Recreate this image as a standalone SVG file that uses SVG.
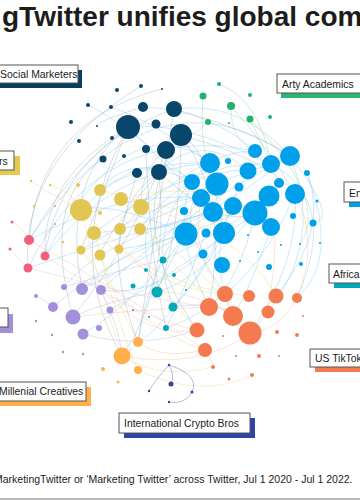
<svg xmlns="http://www.w3.org/2000/svg" width="360" height="500" viewBox="0 0 360 500">
<style>
text{font-family:"Liberation Sans",Arial,sans-serif;fill:#1a1a1a}
.title{font-size:28px;font-weight:bold;fill:#1c1c1c}
.lab{font-size:10.4px}
.cap{font-size:10.5px;fill:#222}
.box{fill:#fff;stroke:#555;stroke-width:1}
.e{fill:none;stroke-width:0.7}
.eb{stroke:#8ecdf0;opacity:.65}
.en{stroke:#93abbd;opacity:.55}
.ey{stroke:#eed98c;opacity:.6}
.ep{stroke:#f5b3c1;opacity:.55}
.eo{stroke:#f7bba4;opacity:.6}
.eu{stroke:#c7bbeb;opacity:.7}
.eg{stroke:#9fd8b8;opacity:.7}
.ec{stroke:#a4acd6;opacity:.9;stroke-width:0.9}
.nv{fill:#08466c}.gr{fill:#22b36b}.bl{fill:#00a0ea}.ye{fill:#e2c653}.pk{fill:#f0607c}
.pu{fill:#a48fdb}.or{fill:#ffb04a}.tl{fill:#00aab8}.ro{fill:#f47a50}.cb{fill:#2f449f}
</style>
<rect width="360" height="500" fill="#fff"/>
<text class="title" x="2" y="26">gTwitter unifies global com</text>
<g id="connectors">
<path class="e eb" d="M201,198 Q120,190 29,240"/>
<path class="e eb" d="M210,163 Q110,170 45,256"/>
<path class="e eb" d="M233,206 Q140,230 28,268"/>
<path class="e eb" d="M186,234 Q110,200 81,210"/>
<path class="e eb" d="M213,212 Q150,260 81,289"/>
<path class="e eb" d="M224,233 Q160,300 101,290"/>
<path class="e eb" d="M255,213 Q180,270 110,310"/>
<path class="e eb" d="M192,182 Q130,150 100,190"/>
<path class="e eb" d="M217,184 Q150,230 94,233"/>
<path class="e eb" d="M269,196 Q190,240 120,249"/>
<path class="e eb" d="M271,164 Q180,120 128,127"/>
<path class="e eb" d="M248,170 Q200,130 159,172"/>
<path class="e eb" d="M255,151 Q210,110 143,107"/>
<path class="e eb" d="M290,156 Q240,100 174,109"/>
<path class="e eb" d="M186,234 Q160,280 157,292"/>
<path class="e eb" d="M224,233 Q200,280 173,307"/>
<path class="e eb" d="M206,233 Q180,300 166,328"/>
<path class="e eb" d="M201,198 Q150,260 138,342"/>
<path class="e eb" d="M233,206 Q190,310 122,356"/>
<path class="e eb" d="M271,227 Q250,290 233,316"/>
<path class="e eb" d="M295,194 Q300,260 250,333"/>
<path class="e eb" d="M255,213 Q240,280 209,307"/>
<path class="e eb" d="M186,234 Q140,300 83,334"/>
<path class="e eb" d="M213,212 Q100,240 64,287"/>
<path class="e eb" d="M210,163 Q150,120 111,107"/>
<path class="e eb" d="M192,182 Q120,120 88,105"/>
<path class="e eb" d="M290,156 Q200,230 140,229"/>
<path class="e eb" d="M271,164 Q160,200 81,250"/>
<path class="e eb" d="M157,292 Q200,280 255,213"/>
<path class="e eb" d="M173,307 Q220,300 233,316"/>
<path class="e eb" d="M29,240 Q150,60 290,156"/>
<path class="e eb" d="M28,268 Q100,120 255,151"/>
<path class="e eb" d="M45,256 Q130,100 210,163"/>
<path class="e eb" d="M250,333 Q330,250 290,156"/>
<path class="e eb" d="M276,296 Q330,230 307,173"/>
<path class="e eb" d="M297,298 Q340,200 271,164"/>
<path class="e eb" d="M225,294 Q160,200 217,184"/>
<path class="e eb" d="M209,307 Q170,230 192,182"/>
<path class="e eb" d="M233,316 Q200,250 248,171"/>
<path class="e eb" d="M163,260 Q230,230 269,196"/>
<path class="e eb" d="M157,292 Q120,200 201,198"/>
<path class="e eb" d="M173,307 Q140,220 210,163"/>
<path class="e eb" d="M166,328 Q250,300 295,194"/>
<path class="e eb" d="M101,290 Q200,200 290,156"/>
<path class="e eb" d="M82,289 Q150,230 233,206"/>
<path class="e eb" d="M53,307 Q120,250 186,234"/>
<path class="e eb" d="M94,233 Q190,160 271,164"/>
<path class="e eb" d="M120,229 Q200,150 255,151"/>
<path class="e eb" d="M140,229 Q180,170 248,170"/>
<path class="e eb" d="M81,210 Q150,140 192,182"/>
<path class="e eb" d="M100,190 Q150,160 210,163"/>
<path class="e en" d="M128,127 Q100,200 81,250"/>
<path class="e en" d="M128,127 Q70,170 29,240"/>
<path class="e en" d="M159,172 Q110,230 100,254"/>
<path class="e en" d="M166,150 Q130,250 72,317"/>
<path class="e en" d="M181,135 Q180,240 157,292"/>
<path class="e en" d="M137,173 Q120,230 119,249"/>
<path class="e en" d="M146,149 Q150,260 166,328"/>
<path class="e en" d="M181,135 Q230,200 209,307"/>
<path class="e en" d="M174,109 Q160,200 138,342"/>
<path class="e en" d="M159,172 Q170,290 122,356"/>
<path class="e en" d="M128,127 Q40,180 45,256"/>
<path class="e en" d="M166,150 Q140,170 141,207"/>
<path class="e en" d="M143,107 Q100,120 97,126"/>
<path class="e en" d="M181,135 Q210,150 224,233"/>
<path class="e en" d="M29,240 Q40,120 162,89"/>
<path class="e en" d="M28,268 Q20,160 141,86"/>
<path class="e en" d="M45,256 Q60,150 174,109"/>
<path class="e en" d="M82,289 Q60,180 128,127"/>
<path class="e en" d="M73,317 Q40,200 103,159"/>
<path class="e en" d="M122,356 Q60,250 128,127"/>
<path class="e en" d="M138,342 Q90,220 159,172"/>
<path class="e en" d="M197,330 Q120,220 181,135"/>
<path class="e en" d="M174,109 Q250,130 290,156"/>
<path class="e en" d="M181,135 Q270,160 295,194"/>
<path class="e en" d="M159,172 Q220,230 255,213"/>
<path class="e en" d="M128,127 Q170,170 201,198"/>
<path class="e eb" d="M307,173 Q340,260 297,298"/>
<path class="e eb" d="M290,156 Q340,220 313,223"/>
<path class="e eg" d="M250,119 Q330,200 300,244"/>
<path class="e eg" d="M231,106 Q270,150 295,194"/>
<path class="e eg" d="M219,84 Q260,100 271,164"/>
<path class="e eg" d="M203,96 Q200,150 210,163"/>
<path class="e eg" d="M231,106 Q230,140 255,151"/>
<path class="e eg" d="M250,119 Q260,140 271,164"/>
<path class="e eg" d="M208,122 Q190,140 181,135"/>
<path class="e ey" d="M81,210 Q150,270 197,330"/>
<path class="e ey" d="M100,190 Q200,220 255,213"/>
<path class="e ey" d="M140,229 Q200,260 250,333"/>
<path class="e ey" d="M121,199 Q200,180 233,206"/>
<path class="e ey" d="M94,233 Q160,290 225,294"/>
<path class="e ey" d="M81,250 Q140,330 205,350"/>
<path class="e ey" d="M100,254 Q120,330 138,370"/>
<path class="e ey" d="M119,249 Q180,290 249,296"/>
<path class="e ey" d="M141,207 Q240,230 276,296"/>
<path class="e ey" d="M31,181 Q60,200 81,210"/>
<path class="e ey" d="M50,185 Q70,190 81,210"/>
<path class="e ey" d="M81,210 Q100,290 122,356"/>
<path class="e ey" d="M121,199 Q180,280 233,316"/>
<path class="e ey" d="M94,233 Q110,290 138,342"/>
<path class="e ep" d="M29,240 Q120,290 205,350"/>
<path class="e ep" d="M28,268 Q150,300 209,307"/>
<path class="e ep" d="M45,256 Q140,320 197,330"/>
<path class="e ep" d="M12,222 Q25,230 29,240"/>
<path class="e ep" d="M10,249 Q20,260 28,268"/>
<path class="e eo" d="M197,330 Q150,340 101,290"/>
<path class="e eo" d="M209,307 Q130,310 72,317"/>
<path class="e eo" d="M233,316 Q190,290 157,292"/>
<path class="e eo" d="M225,294 Q190,260 201,198"/>
<path class="e eo" d="M250,333 Q200,370 122,356"/>
<path class="e eo" d="M268,312 Q280,230 271,227"/>
<path class="e eo" d="M297,298 Q320,240 295,194"/>
<path class="e eo" d="M205,350 Q160,360 138,342"/>
<path class="e eo" d="M297,298 Q280,330 250,333"/>
<path class="e eo" d="M205,350 Q215,365 213,367"/>
<path class="e eu" d="M72,317 Q110,300 157,292"/>
<path class="e eu" d="M83,334 Q140,350 197,330"/>
<path class="e eu" d="M64,287 Q120,270 163,260"/>
<path class="e eu" d="M101,290 Q120,330 122,356"/>
<path class="e eu" d="M36,296 Q45,300 53,307"/>
<path class="e ey" d="M122,356 Q160,380 213,367"/>
<path class="e ey" d="M138,370 Q200,400 252,375"/>
<path class="e ec" d="M169,365 Q200,375 192,392"/>
<path class="e ec" d="M192,392 Q185,405 169,402"/>
<path class="e ec" d="M169,365 Q155,380 149,391"/>
<path class="e ec" d="M171,384 Q175,375 169,365"/>
</g>
<g id="nodes-navy">
<circle class="nv" cx="128" cy="127" r="12"/><circle class="nv" cx="181" cy="135" r="11"/><circle class="nv" cx="166" cy="150" r="9"/><circle class="nv" cx="159" cy="172" r="8"/><circle class="nv" cx="174" cy="109" r="8"/><circle class="nv" cx="143" cy="107" r="5"/><circle class="nv" cx="156" cy="124" r="4.5"/><circle class="nv" cx="146" cy="149" r="4"/><circle class="nv" cx="137" cy="173" r="5"/><circle class="nv" cx="103" cy="159" r="3.5"/><circle class="nv" cx="124" cy="156" r="2"/><circle class="nv" cx="112" cy="138" r="2"/><circle class="nv" cx="97" cy="126" r="1"/><circle class="nv" cx="79" cy="141" r="2"/><circle class="nv" cx="71" cy="122" r="2"/><circle class="nv" cx="88" cy="105" r="2"/><circle class="nv" cx="111" cy="107" r="2"/><circle class="nv" cx="117" cy="90" r="2"/><circle class="nv" cx="141" cy="86" r="2"/><circle class="nv" cx="162" cy="89" r="1"/>
</g>
<g id="nodes-green">
<circle class="gr" cx="219" cy="84" r="2"/><circle class="gr" cx="203" cy="96" r="3.5"/><circle class="gr" cx="250" cy="95" r="2"/><circle class="gr" cx="231" cy="106" r="4"/><circle class="gr" cx="208" cy="122" r="3"/><circle class="gr" cx="229" cy="123" r="1"/><circle class="gr" cx="250" cy="119" r="3.5"/><circle class="gr" cx="270" cy="117" r="2"/>
</g>
<g id="nodes-blue">
<circle class="bl" cx="255" cy="151" r="7"/><circle class="bl" cx="290" cy="156" r="10"/><circle class="bl" cx="228" cy="161" r="3"/><circle class="bl" cx="271" cy="164" r="9"/><circle class="bl" cx="210" cy="163" r="10"/><circle class="bl" cx="248" cy="171" r="8.5"/><circle class="bl" cx="307" cy="173" r="3"/><circle class="bl" cx="192" cy="182" r="8"/><circle class="bl" cx="217" cy="184" r="11.5"/><circle class="bl" cx="279" cy="183" r="5"/><circle class="bl" cx="239" cy="187" r="4.5"/><circle class="bl" cx="295" cy="194" r="10"/><circle class="bl" cx="201" cy="198" r="9"/><circle class="bl" cx="269" cy="196" r="10.5"/><circle class="bl" cx="233" cy="206" r="9"/><circle class="bl" cx="255" cy="213" r="12.5"/><circle class="bl" cx="213" cy="212" r="10"/><circle class="bl" cx="184" cy="211" r="4"/><circle class="bl" cx="271" cy="227" r="9"/><circle class="bl" cx="186" cy="234" r="11.5"/><circle class="bl" cx="224" cy="233" r="11"/><circle class="bl" cx="206" cy="233" r="4.5"/><circle class="bl" cx="317" cy="201" r="1.5"/><circle class="bl" cx="293" cy="216" r="3"/><circle class="bl" cx="313" cy="223" r="3.5"/><circle class="bl" cx="203" cy="254" r="4.5"/><circle class="bl" cx="222" cy="265" r="8"/><circle class="bl" cx="248" cy="235" r="1"/><circle class="bl" cx="258" cy="252" r="1"/><circle class="bl" cx="281" cy="245" r="1"/><circle class="bl" cx="300" cy="244" r="1"/><circle class="bl" cx="320" cy="243" r="1"/><circle class="bl" cx="301" cy="264" r="2"/><circle class="bl" cx="269" cy="267" r="3"/><circle class="bl" cx="240" cy="261" r="1"/>
</g>
<g id="nodes-yellow">
<circle class="ye" cx="81" cy="210" r="11"/><circle class="ye" cx="100" cy="190" r="6"/><circle class="ye" cx="121" cy="199" r="7"/><circle class="ye" cx="141" cy="207" r="8"/><circle class="ye" cx="100" cy="213" r="2"/><circle class="ye" cx="94" cy="233" r="7"/><circle class="ye" cx="120" cy="229" r="6"/><circle class="ye" cx="140" cy="229" r="6"/><circle class="ye" cx="81" cy="250" r="4.5"/><circle class="ye" cx="100" cy="255" r="5.5"/><circle class="ye" cx="119" cy="249" r="4.5"/><circle class="ye" cx="31" cy="181" r="1.2"/><circle class="ye" cx="50" cy="185" r="1.2"/><circle class="ye" cx="78" cy="185" r="2"/><circle class="ye" cx="34" cy="206" r="1.2"/><circle class="ye" cx="55" cy="206" r="1.2"/><circle class="ye" cx="55" cy="224" r="1.2"/><circle class="ye" cx="63" cy="242" r="1.2"/>
</g>
<g id="nodes-pink">
<circle class="pk" cx="29" cy="240" r="5"/><circle class="pk" cx="45" cy="256" r="4.5"/><circle class="pk" cx="28" cy="268" r="4.5"/><circle class="pk" cx="12" cy="222" r="1.5"/><circle class="pk" cx="10" cy="249" r="1.5"/>
</g>
<g id="nodes-purple">
<circle class="pu" cx="64" cy="287" r="3"/><circle class="pu" cx="82" cy="289" r="6"/><circle class="pu" cx="101" cy="290" r="5"/><circle class="pu" cx="36" cy="296" r="2"/><circle class="pu" cx="53" cy="307" r="5"/><circle class="pu" cx="73" cy="317" r="7.5"/><circle class="pu" cx="110" cy="310" r="3.5"/><circle class="pu" cx="83" cy="334" r="5.5"/><circle class="pu" cx="99" cy="328" r="3"/><circle class="pu" cx="36" cy="321" r="1.2"/><circle class="pu" cx="52" cy="335" r="1.2"/><circle class="pu" cx="63" cy="352" r="1.2"/><circle class="pu" cx="83" cy="354" r="1.2"/>
</g>
<g id="nodes-orange">
<circle class="or" cx="138" cy="342" r="5"/><circle class="or" cx="122" cy="356" r="8.5"/><circle class="or" cx="138" cy="370" r="4"/><circle class="or" cx="103" cy="369" r="2"/><circle class="or" cx="118" cy="382" r="1.5"/>
</g>
<g id="nodes-teal">
<circle class="tl" cx="163" cy="260" r="3.5"/><circle class="tl" cx="146" cy="270" r="2"/><circle class="tl" cx="174" cy="275" r="2"/><circle class="tl" cx="133" cy="286" r="2.5"/><circle class="tl" cx="157" cy="292" r="5.5"/><circle class="tl" cx="173" cy="307" r="4.5"/><circle class="tl" cx="186" cy="290" r="1"/><circle class="tl" cx="133" cy="310" r="1"/><circle class="tl" cx="149" cy="317" r="1"/><circle class="tl" cx="166" cy="328" r="3"/>
</g>
<g id="nodes-tiktok">
<circle class="ro" cx="225" cy="294" r="8"/><circle class="ro" cx="249" cy="296" r="6"/><circle class="ro" cx="276" cy="296" r="7.5"/><circle class="ro" cx="297" cy="298" r="5"/><circle class="ro" cx="209" cy="307" r="9"/><circle class="ro" cx="233" cy="316" r="10"/><circle class="ro" cx="268" cy="312" r="6.5"/><circle class="ro" cx="197" cy="330" r="7.5"/><circle class="ro" cx="250" cy="333" r="11.5"/><circle class="ro" cx="205" cy="350" r="7"/><circle class="ro" cx="303" cy="316" r="1"/><circle class="ro" cx="277" cy="332" r="2"/><circle class="ro" cx="297" cy="335" r="2"/><circle class="ro" cx="223" cy="336" r="1"/><circle class="ro" cx="236" cy="356" r="1"/><circle class="ro" cx="259" cy="356" r="2"/><circle class="ro" cx="279" cy="356" r="1"/><circle class="ro" cx="213" cy="367" r="2"/><circle class="ro" cx="252" cy="375" r="2"/><circle class="ro" cx="229" cy="379" r="1.5"/>
</g>
<g id="nodes-crypto">
<circle class="cb" cx="169" cy="365" r="1.2"/><circle class="cb" cx="171" cy="384" r="2.5"/><circle class="cb" cx="149" cy="391" r="1.2"/><circle class="cb" cx="192" cy="392" r="1.5"/><circle class="cb" cx="169" cy="402" r="1.2"/>
</g>
<g id="label-social"><rect x="-6" y="70" width="88" height="18" fill="#0a3e60"/><rect class="box" x="-10" y="65" width="88" height="18"/><text class="lab" x="0" y="78">Social Marketers</text></g>
<g id="label-arty"><rect x="281" y="79" width="100" height="19" fill="#2bb673"/><rect class="box" x="277" y="74" width="100" height="19"/><text class="lab" x="282" y="88">Arty Academics</text></g>
<g id="label-yellow"><rect x="-14" y="156" width="34" height="19" fill="#e8c84f"/><rect class="box" x="-20" y="151" width="34" height="19"/><text class="lab" x="-1" y="165">rs</text></g>
<g id="label-en"><rect x="349" y="187" width="40" height="20" fill="#00a0ea"/><rect class="box" x="344" y="182" width="40" height="20"/><text class="lab" x="349" y="197">En</text></g>
<g id="label-africa"><rect x="334" y="269" width="50" height="19" fill="#00a9b7"/><rect class="box" x="329" y="264" width="50" height="19"/><text class="lab" x="333" y="278">Africa</text></g>
<g id="label-purple"><rect x="-15" y="314" width="28" height="19" fill="#a48fdb"/><rect class="box" x="-20" y="308" width="28" height="19"/></g>
<g id="label-millenial"><rect x="-5" y="387" width="96" height="19" fill="#ffb04a"/><rect class="box" x="-10" y="382" width="96" height="19"/><text class="lab" x="-1" y="395">Millenial Creatives</text></g>
<g id="label-tiktok"><rect x="315" y="354" width="70" height="18" fill="#f47a50"/><rect class="box" x="310" y="349" width="70" height="18"/><text class="lab" x="315" y="362">US TikTok</text></g>
<g id="label-crypto"><rect x="124" y="418" width="131" height="20" fill="#2e43a5"/><rect class="box" x="119" y="413" width="131" height="20"/><text class="lab" x="124" y="427">International Crypto Bros</text></g>
<text class="cap" x="-6" y="483">MarketingTwitter or ‘Marketing Twitter’ across Twitter, Jul 1 2020 - Jul 1 2022.</text>
<line x1="0" y1="499" x2="360" y2="499" stroke="#777" stroke-width="1"/>
</svg>
